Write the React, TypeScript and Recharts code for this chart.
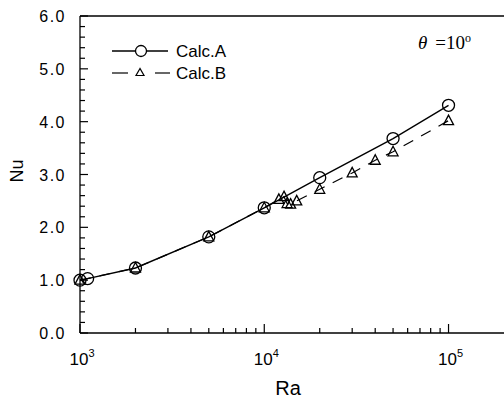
import { LineChart, Line, XAxis, YAxis, ReferenceLine } from "recharts"

// Calc.A (circles, solid)
const raA = [1000, 1100, 2000, 5000, 10000, 20000, 50000, 100000]
const nuA = [1.0, 1.03, 1.23, 1.82, 2.37, 2.94, 3.68, 4.31]

// Calc.B (triangles, dashed)
const raB = [1000, 2000, 5000, 10000, 12000, 12800, 13300, 13900, 15000, 20000, 30000, 40000, 50000, 100000]
const nuB = [1.0, 1.23, 1.82, 2.37, 2.53, 2.58, 2.45, 2.44, 2.5, 2.72, 3.03, 3.27, 3.43, 4.02]

const X_TICKS = [1000, 2000, 3000, 4000, 5000, 6000, 7000, 8000, 9000, 10000, 20000, 30000, 40000, 50000, 60000, 70000, 80000, 90000, 100000]
const Y_MAJOR = [0, 1, 2, 3, 4, 5, 6]
const Y_MINOR = [0.2, 0.4, 0.6, 0.8, 1.2, 1.4, 1.6, 1.8, 2.2, 2.4, 2.6, 2.8, 3.2, 3.4, 3.6, 3.8, 4.2, 4.4, 4.6, 4.8, 5.2, 5.4, 5.6, 5.8]

const dataA = raA.map((ra, i) => ({ ra, nu: nuA[i] }))
const dataB = raB.map((ra, i) => ({ ra, nu: nuB[i] }))
// inward y tick marks, placed on the left edge (Ra = 1000) through the chart scales
const yTickData = [
  ...Y_MAJOR.map((nu) => ({ ra: 1000, nu, major: true })),
  ...Y_MINOR.map((nu) => ({ ra: 1000, nu, major: false })),
]

const FONT = "'Liberation Sans', Arial, sans-serif"
// tick label sits tickSize + tickMargin away from the axis line
const OFF = 10

const XTick = ({ x, y, payload }: any) => {
  const lg = Math.log10(payload.value)
  const exp = Math.round(lg)
  const major = Math.abs(lg - exp) < 1e-6
  const ay = Number(y) - OFF
  return (
    <g>
      <line x1={x} x2={x} y1={ay} y2={ay - (major ? 9 : 5)} stroke="#000" strokeWidth={1.2} />
      {major && (
        <text x={Number(x) + 2} y={ay + 32} textAnchor="middle" fontFamily={FONT} fontSize={17} fill="#000">
          10<tspan dy={-8} fontSize={11}>{exp}</tspan>
        </text>
      )}
    </g>
  )
}

const YLabel = ({ x, y, payload }: any) => (
  <text x={Number(x) + OFF - 14} y={Number(y) + 6} textAnchor="end" fontFamily={FONT} fontSize={16} letterSpacing={1.5} fill="#000">
    {Number(payload.value).toFixed(1)}
  </text>
)

const YTickMark = ({ cx, cy, payload }: any) => (
  <line x1={cx} x2={cx + (payload?.major ? 8 : 5)} y1={cy} y2={cy} stroke="#000" strokeWidth={1.2} />
)

const CircleDot = ({ cx, cy }: any) => (
  <circle cx={cx} cy={cy} r={6} fill="none" stroke="#000" strokeWidth={1.3} />
)

const TriDot = ({ cx, cy }: any) => (
  <polygon
    points={`${cx},${cy - 5.5} ${cx - 5},${cy + 4} ${cx + 5},${cy + 4}`}
    fill="none" stroke="#000" strokeWidth={1.3}
  />
)

export default function App() {
  return (
    <div style={{ position: "absolute", left: 0, top: 0, width: 504, height: 398, background: "#fff" }}>
      <LineChart width={504} height={398} margin={{ top: 16, right: 0, bottom: 0, left: 20 }}>
        <XAxis
          dataKey="ra" type="number" scale="log" domain={[1000, 200000]}
          ticks={X_TICKS} interval={0} height={65} tickSize={8} tickMargin={2}
          tickLine={false} axisLine={{ stroke: "#000", strokeWidth: 1.3 }} tick={<XTick />}
        />
        <YAxis
          type="number" domain={[0, 6]} ticks={Y_MAJOR} interval={0} width={60}
          tickSize={8} tickMargin={2} tickLine={false}
          axisLine={{ stroke: "#000", strokeWidth: 1.3 }} tick={<YLabel />}
        />
        <ReferenceLine y={6} stroke="#000" strokeWidth={1.3} />
        <Line
          data={yTickData} dataKey="nu" type="linear" stroke="none"
          dot={<YTickMark />} activeDot={false} isAnimationActive={false}
        />
        <Line
          data={dataA} dataKey="nu" type="linear" stroke="#000" strokeWidth={1.4}
          dot={<CircleDot />} isAnimationActive={false}
        />
        <Line
          data={dataB} dataKey="nu" type="linear" stroke="#000" strokeWidth={1.2}
          strokeDasharray="11 9" dot={<TriDot />} isAnimationActive={false}
        />
      </LineChart>
      <svg width={504} height={398} style={{ position: "absolute", left: 0, top: 0, pointerEvents: "none" }}>
        <line x1={112} x2={168} y1={51} y2={51} stroke="#000" strokeWidth={1.4} />
        <circle cx={141} cy={51} r={5.5} fill="#fff" stroke="#000" strokeWidth={1.3} />
        <text x={176} y={57} fontFamily={FONT} fontSize={17} fill="#000">Calc.A</text>
        <line x1={112} x2={128} y1={73} y2={73} stroke="#000" strokeWidth={1.2} />
        <polygon points="140,68.5 136,75.5 144,75.5" fill="none" stroke="#000" strokeWidth={1.2} />
        <line x1={155} x2={170} y1={73} y2={73} stroke="#000" strokeWidth={1.2} />
        <text x={176} y={79} fontFamily={FONT} fontSize={17} fill="#000">Calc.B</text>
        <text x={418} y={49} fontFamily="'Liberation Serif', 'Times New Roman', serif" fontSize={19} fill="#000">
          <tspan fontStyle="italic">θ</tspan>
          <tspan dx={8}>=10</tspan>
          <tspan dy={-7} fontSize={12}>o</tspan>
        </text>
        <text x={288} y={395} textAnchor="middle" fontFamily={FONT} fontSize={20} fill="#000">Ra</text>
        <text
          x={0} y={0} transform="translate(23,171) rotate(-90)" textAnchor="middle"
          fontFamily={FONT} fontSize={18} fill="#000"
        >Nu</text>
      </svg>
    </div>
  )
}
